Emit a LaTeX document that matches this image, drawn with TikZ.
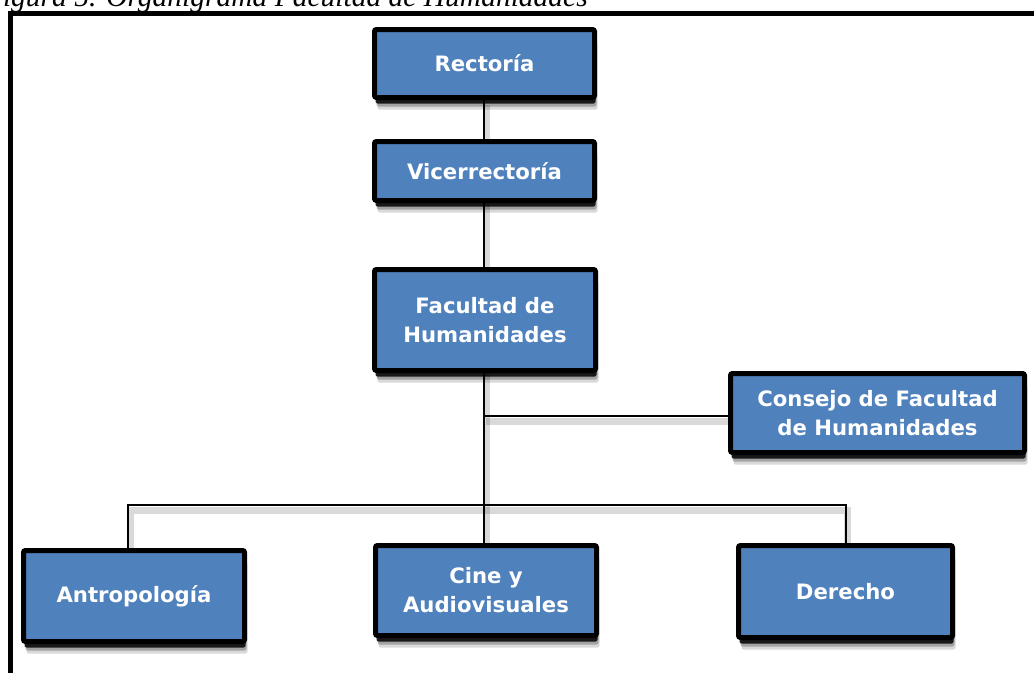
\documentclass[tikz,border=0pt]{standalone}
\usepackage{fontspec}
\newfontfamily\boxfont{DejaVu Sans}
\newfontfamily\capfont{Liberation Serif}
\usetikzlibrary{shadows}
\definecolor{boxblue}{RGB}{79,129,189}
\pgfdeclarelayer{bg}
\pgfsetlayers{bg,main}
\begin{document}
\begin{tikzpicture}[x=1pt,y=-1pt,
  orgbox/.style={draw=black, line width=5pt, fill=boxblue, rounded corners=2pt,
    text=white, font=\boxfont\bfseries\fontsize{21.2}{29}\selectfont, align=center, inner sep=0pt,
    general shadow={fill=black, opacity=0.15, shadow xshift=3pt, shadow yshift=-12pt},
    general shadow={fill=black, opacity=0.25, shadow xshift=2pt, shadow yshift=-9pt},
    general shadow={fill=black, opacity=0.85, shadow xshift=1pt, shadow yshift=-6pt}},
  link/.style={draw=black, line width=2pt,
    preaction={draw=black, opacity=0.15, line width=7pt, transform canvas={xshift=2pt,yshift=-5pt}}},
  frame/.style={draw=black, line width=5pt},
  caption/.style={font=\capfont\itshape\fontsize{29.5}{32}\selectfont, inner sep=0pt, anchor=base east}]
\useasboundingbox (0,0) rectangle (1034,673);

\node[caption] (cap) at (588,6) {Figura 5. Organigrama Facultad de Humanidades};
\draw[frame] (10.5,673) -- (10.5,13) -- (1034,13);

\node[orgbox, minimum width=220pt, minimum height=68pt] (rect) at (484.5,63.5) {Rectoría};
\node[orgbox, minimum width=220pt, minimum height=59pt] (vice) at (484.5,171) {Vicerrectoría};
\node[orgbox, minimum width=221pt, minimum height=101pt] (fac) at (485,320) {Facultad de\\Humanidades};
\node[orgbox, minimum width=294pt, minimum height=79pt] (cons) at (877.5,413) {Consejo de Facultad\\de Humanidades};
\node[orgbox, minimum width=221pt, minimum height=91pt] (antro) at (134,596) {Antropología};
\node[orgbox, minimum width=221pt, minimum height=90pt] (cine) at (486,590.5) {Cine y\\Audiovisuales};
\node[orgbox, minimum width=214pt, minimum height=92pt] (der) at (845.5,591.5) {Derecho};

\coordinate (spine) at (484,0);
\coordinate (cj) at (484,416);
\coordinate (bus) at (484,505);

\begin{pgfonlayer}{bg}
\draw[link] (rect.south -| spine) -- (cine.north -| spine);
\draw[link] (cj) -- (cons.west |- cj);
\draw[link] ([xshift=-6pt]antro.north) |- (bus) -| (der.north);
\end{pgfonlayer}
\end{tikzpicture}
\end{document}
